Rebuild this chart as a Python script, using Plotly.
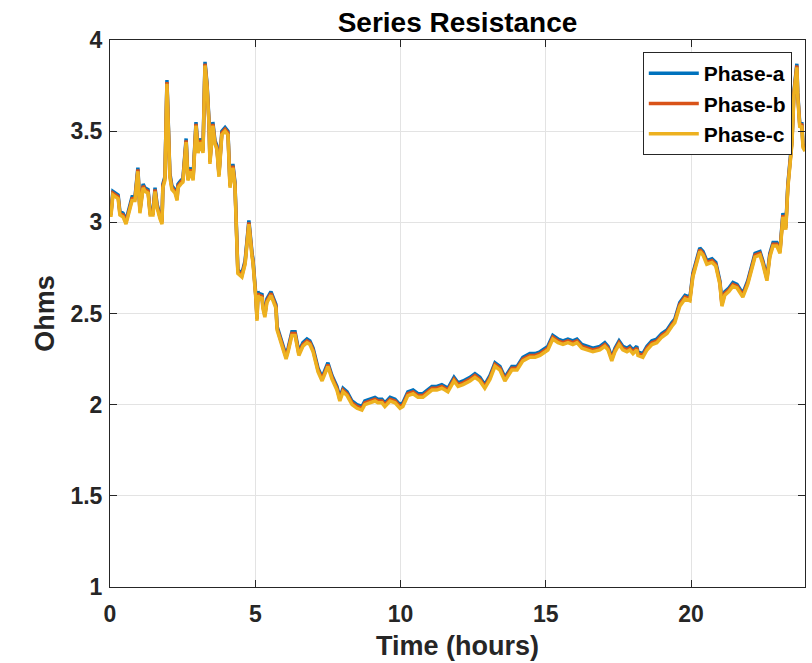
import plotly.graph_objects as go

# Time of day (hours) and Phase-a series resistance (ohms)
time_h = [
    0.00, 0.03, 0.10, 0.21, 0.28, 0.34, 0.45, 0.55, 0.65, 0.76, 0.86, 0.96, 1.03, 1.14, 1.20,
    1.31, 1.38, 1.48, 1.55, 1.62, 1.72, 1.79, 1.82, 1.89, 1.96, 2.03, 2.06, 2.13, 2.24, 2.31,
    2.34, 2.44, 2.51, 2.62, 2.68, 2.79, 2.86, 2.96, 3.03, 3.13, 3.20, 3.27, 3.34, 3.41, 3.44,
    3.54, 3.61, 3.68, 3.75, 3.85, 3.96, 4.06, 4.13, 4.23, 4.30, 4.40, 4.54, 4.65, 4.78, 4.89,
    4.92, 5.02, 5.06, 5.09, 5.16, 5.23, 5.26, 5.33, 5.40, 5.54, 5.61, 5.71, 5.75, 5.92, 6.06,
    6.13, 6.26, 6.37, 6.44, 6.50, 6.64, 6.78, 6.88, 6.99, 7.16, 7.30, 7.40, 7.50, 7.64, 7.81,
    7.91, 8.02, 8.16, 8.33, 8.50, 8.67, 8.77, 8.95, 9.12, 9.22, 9.36, 9.46, 9.64, 9.81, 9.98,
    10.08, 10.25, 10.43, 10.60, 10.77, 10.94, 11.08, 11.25, 11.42, 11.53, 11.63, 11.84, 11.98,
    12.15, 12.39, 12.56, 12.73, 12.90, 13.08, 13.25, 13.42, 13.59, 13.83, 14.01, 14.21, 14.45,
    14.63, 14.80, 14.97, 15.07, 15.24, 15.42, 15.59, 15.76, 15.93, 16.07, 16.24, 16.41, 16.62,
    16.86, 17.03, 17.14, 17.27, 17.38, 17.52, 17.65, 17.79, 17.89, 18.00, 18.13, 18.17, 18.34,
    18.48, 18.65, 18.82, 18.99, 19.17, 19.34, 19.44, 19.61, 19.79, 19.96, 20.06, 20.30, 20.41,
    20.54, 20.72, 20.85, 20.99, 21.06, 21.16, 21.30, 21.44, 21.58, 21.68, 21.78, 21.95, 22.20,
    22.37, 22.47, 22.61, 22.71, 22.82, 22.95, 23.06, 23.16, 23.26, 23.33, 23.47, 23.54, 23.64,
    23.67, 23.74, 23.81, 23.85, 23.92,
]

phase_a = [
    3.10, 3.05, 3.17, 3.16, 3.15, 3.06, 3.05, 3.01, 3.08, 3.14, 3.14, 3.30, 3.07, 3.21, 3.19,
    3.18, 3.06, 3.06, 3.19, 3.10, 3.04, 3.01, 3.21, 3.25, 3.78, 3.40, 3.27, 3.20, 3.18, 3.14,
    3.21, 3.23, 3.24, 3.46, 3.25, 3.30, 3.25, 3.55, 3.40, 3.46, 3.40, 3.88, 3.76, 3.55, 3.34,
    3.55, 3.45, 3.42, 3.27, 3.50, 3.52, 3.50, 3.21, 3.32, 3.22, 2.74, 2.72, 2.79, 3.01, 2.83,
    2.80, 2.60, 2.48, 2.62, 2.60, 2.61, 2.55, 2.50, 2.58, 2.62, 2.59, 2.55, 2.43, 2.34, 2.27,
    2.31, 2.40, 2.40, 2.33, 2.29, 2.34, 2.36, 2.35, 2.31, 2.20, 2.15, 2.19, 2.23, 2.16, 2.10,
    2.04, 2.09, 2.07, 2.02, 2.00, 1.99, 2.02, 2.03, 2.04, 2.03, 2.03, 2.01, 2.04, 2.03, 2.00,
    2.01, 2.07, 2.08, 2.06, 2.06, 2.08, 2.10, 2.10, 2.11, 2.10, 2.09, 2.15, 2.12,
    2.13, 2.15, 2.17, 2.15, 2.11, 2.16, 2.23, 2.21, 2.15, 2.21, 2.21, 2.26, 2.28,
    2.28, 2.29, 2.31, 2.32, 2.38, 2.36, 2.35, 2.36, 2.35, 2.36, 2.33, 2.32, 2.31,
    2.32, 2.34, 2.32, 2.26, 2.31, 2.35, 2.32, 2.31, 2.32, 2.30, 2.32, 2.29, 2.28,
    2.32, 2.35, 2.36, 2.39, 2.41, 2.45, 2.47, 2.56, 2.60, 2.59, 2.72, 2.86, 2.84,
    2.79, 2.80, 2.78, 2.68, 2.56, 2.62, 2.64, 2.67, 2.66, 2.63, 2.61, 2.68, 2.83,
    2.84, 2.79, 2.70, 2.83, 2.89, 2.89, 2.85, 3.05, 2.98, 3.21, 3.45, 3.72, 3.87,
    3.71, 3.54, 3.55, 3.43, 3.41,
]

# Phases b and c track Phase-a with a small, nearly constant downward offset (ohms)
phase_b_offset = 0.010
phase_c_offset = 0.020
phase_b = [v - phase_b_offset for v in phase_a]
phase_c = [v - phase_c_offset for v in phase_a]

series = [
    ("Phase-a", phase_a, "#0072BD"),
    ("Phase-b", phase_b, "#D95319"),
    ("Phase-c", phase_c, "#EDB120"),
]

x_ticks = [0, 5, 10, 15, 20]
y_ticks = [1, 1.5, 2, 2.5, 3, 3.5, 4]

FONT = "Liberation Sans, Arial, Helvetica, sans-serif"
AXIS_COLOR = "#262626"
GRID_COLOR = "#e3e3e3"

fig = go.Figure()
for name, values, color in series:
    fig.add_trace(go.Scatter(
        x=time_h, y=values, mode="lines", name=name,
        line=dict(color=color, width=3.5),
    ))

axis_common = dict(
    showline=True, linecolor=AXIS_COLOR, linewidth=1,
    mirror="ticks", ticks="inside", ticklen=7, tickcolor=AXIS_COLOR, tickwidth=1,
    showgrid=True, gridcolor=GRID_COLOR, gridwidth=1, zeroline=False,
    tickfont=dict(family=FONT, size=23, color=AXIS_COLOR, weight="bold"),
)

fig.update_xaxes(
    range=[0, 23.92], tickvals=x_ticks, ticktext=[str(t) for t in x_ticks],
    ticklabelstandoff=6,
    title=dict(text="Time (hours)", font=dict(family=FONT, size=27, color=AXIS_COLOR, weight="bold"), standoff=10),
    **axis_common,
)
fig.update_yaxes(
    range=[1, 4], tickvals=y_ticks, ticktext=["%g" % t for t in y_ticks],
    ticklabelstandoff=2,
    title=dict(text="Ohms", font=dict(family=FONT, size=27, color=AXIS_COLOR, weight="bold"), standoff=7),
    **axis_common,
)

fig.update_layout(
    width=812, height=663,
    margin=dict(l=110, r=7, t=40, b=76),
    paper_bgcolor="white", plot_bgcolor="white",
    title=dict(
        text="Series Resistance", xref="paper", x=0.5, xanchor="center",
        yref="container", y=0.967, yanchor="middle",
        font=dict(family=FONT, size=28, color="black", weight="bold"),
    ),
    legend=dict(
        x=0.981, y=0.978, xanchor="right", yanchor="top",
        bgcolor="white", bordercolor=AXIS_COLOR, borderwidth=1,
        font=dict(family=FONT, size=21, color="black", weight="bold"),
        itemwidth=50, tracegroupgap=0,
    ),
    showlegend=True,
)

fig.write_html("out.html")
